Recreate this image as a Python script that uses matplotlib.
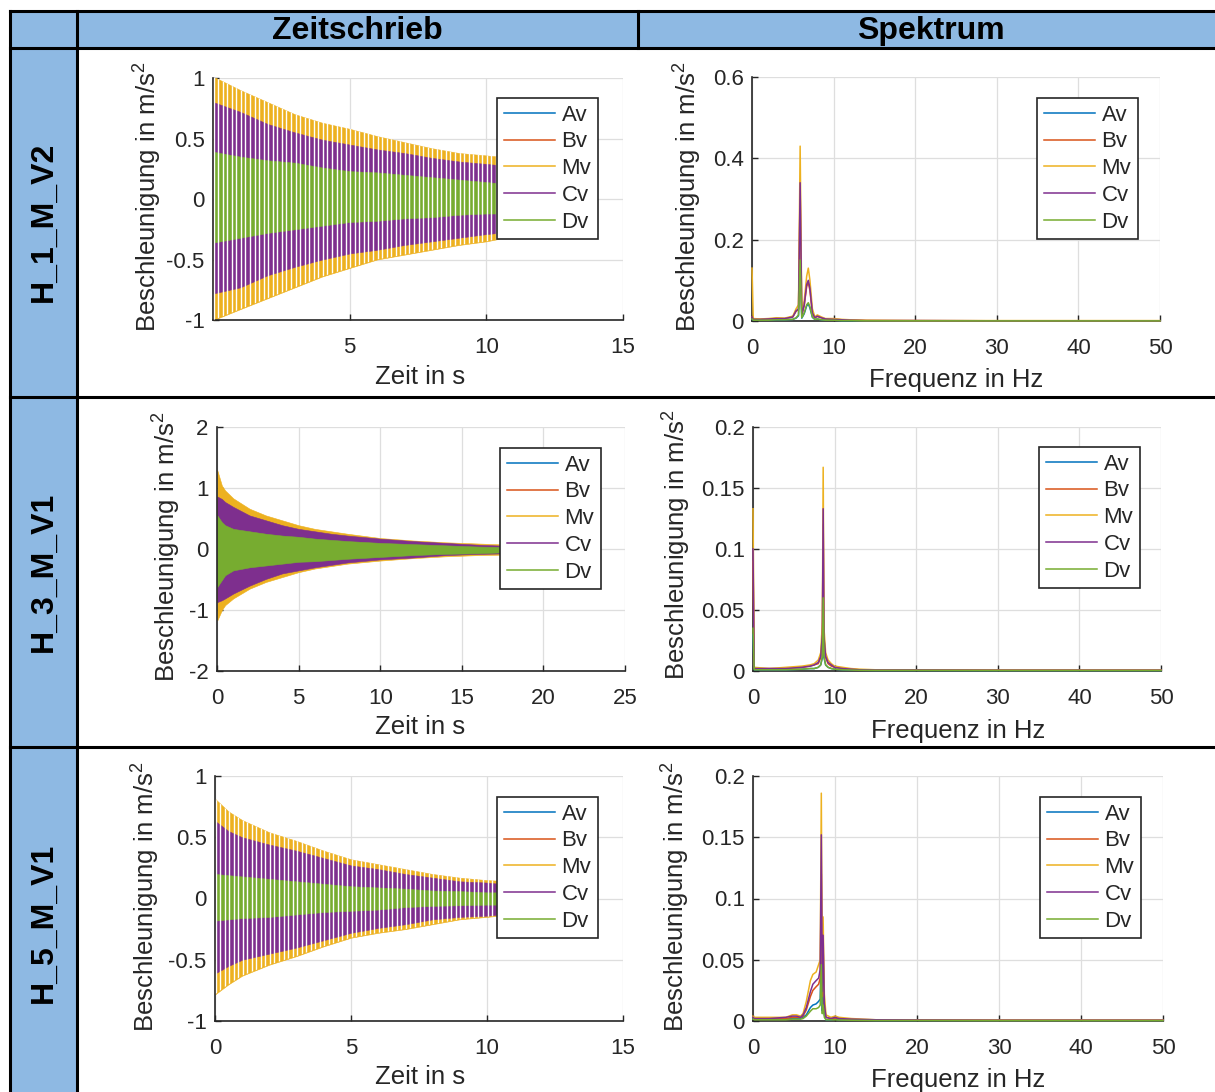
import numpy as np
import matplotlib
matplotlib.use("Agg")
import matplotlib.pyplot as plt
from matplotlib.lines import Line2D
from matplotlib.patches import Rectangle
from matplotlib.ticker import FuncFormatter

plt.rcParams['font.family'] = ['Liberation Sans', 'DejaVu Sans']
plt.rcParams['axes.unicode_minus'] = False
plt.rcParams['mathtext.fontset'] = 'custom'
plt.rcParams['mathtext.rm'] = 'Liberation Sans'
plt.rcParams['mathtext.default'] = 'regular'

# ---------------------------------------------------------------- data
CHANNELS = ["Av", "Bv", "Mv", "Cv", "Dv"]
COLORS = {"Av": "#0072BD", "Bv": "#D95319", "Mv": "#EDB120",
          "Cv": "#7E2F8E", "Dv": "#77AC30"}
ROW_LABELS = ["H_1_M_V2", "H_3_M_V1", "H_5_M_V1"]
HEADERS = ["Zeitschrieb", "Spektrum"]

# H_1_M_V2 – envelope of the time signal (upper / lower) in m/s^2
H1_T = [0.02, 1, 2, 3, 4, 5, 6, 7, 8, 9, 10, 10.45]
H1_UP = {
    "Av": [0.36, 0.32, 0.29, 0.27, 0.24, 0.21, 0.20, 0.18, 0.16, 0.15, 0.13, 0.12],
    "Bv": [0.76, 0.68, 0.59, 0.52, 0.47, 0.43, 0.39, 0.36, 0.32, 0.29, 0.27, 0.26],
    "Mv": [1.01, 0.90, 0.80, 0.70, 0.63, 0.58, 0.52, 0.47, 0.42, 0.38, 0.36, 0.35],
    "Cv": [0.80, 0.72, 0.62, 0.55, 0.49, 0.45, 0.41, 0.38, 0.34, 0.31, 0.29, 0.28],
    "Dv": [0.39, 0.35, 0.32, 0.30, 0.26, 0.23, 0.22, 0.20, 0.18, 0.16, 0.14, 0.13],
}
H1_LO = {
    "Av": [-0.33, -0.30, -0.26, -0.23, -0.20, -0.18, -0.17, -0.15, -0.14, -0.12, -0.11, -0.11],
    "Bv": [-0.74, -0.69, -0.60, -0.53, -0.47, -0.43, -0.40, -0.36, -0.33, -0.30, -0.27, -0.26],
    "Mv": [-1.00, -0.91, -0.82, -0.73, -0.64, -0.57, -0.50, -0.46, -0.42, -0.38, -0.35, -0.33],
    "Cv": [-0.78, -0.73, -0.63, -0.56, -0.50, -0.45, -0.42, -0.38, -0.35, -0.32, -0.29, -0.28],
    "Dv": [-0.36, -0.32, -0.28, -0.25, -0.22, -0.19, -0.18, -0.16, -0.15, -0.13, -0.12, -0.12],
}

# H_3_M_V1
H3_T = [0.02, 0.3, 0.5, 1, 2, 3, 4, 5, 6, 7, 8, 10, 12, 14, 16, 18, 19]
H3_UP = {
    "Av": [0.45, 0.38, 0.34, 0.29, 0.25, 0.22, 0.19, 0.17, 0.15, 0.13, 0.11, 0.09, 0.07, 0.05, 0.04, 0.03, 0.02],
    "Bv": [0.80, 0.76, 0.72, 0.64, 0.51, 0.44, 0.36, 0.31, 0.27, 0.23, 0.20, 0.16, 0.12, 0.09, 0.07, 0.05, 0.04],
    "Mv": [1.29, 1.04, 0.96, 0.83, 0.66, 0.55, 0.47, 0.39, 0.33, 0.29, 0.25, 0.18, 0.14, 0.11, 0.09, 0.07, 0.06],
    "Cv": [0.86, 0.82, 0.77, 0.69, 0.55, 0.47, 0.39, 0.33, 0.29, 0.25, 0.22, 0.17, 0.13, 0.10, 0.07, 0.05, 0.04],
    "Dv": [0.55, 0.44, 0.39, 0.33, 0.29, 0.25, 0.22, 0.20, 0.17, 0.15, 0.13, 0.10, 0.08, 0.06, 0.04, 0.03, 0.03],
}
H3_LO = {
    "Av": [-0.50, -0.42, -0.37, -0.31, -0.26, -0.23, -0.21, -0.18, -0.17, -0.15, -0.14, -0.11, -0.09, -0.07, -0.06, -0.04, -0.04],
    "Bv": [-0.81, -0.78, -0.75, -0.68, -0.56, -0.46, -0.37, -0.33, -0.28, -0.24, -0.21, -0.16, -0.13, -0.09, -0.07, -0.06, -0.05],
    "Mv": [-1.17, -1.00, -0.92, -0.81, -0.65, -0.54, -0.46, -0.38, -0.32, -0.28, -0.24, -0.19, -0.15, -0.12, -0.10, -0.09, -0.08],
    "Cv": [-0.87, -0.84, -0.81, -0.73, -0.60, -0.49, -0.40, -0.35, -0.30, -0.26, -0.22, -0.17, -0.14, -0.10, -0.08, -0.07, -0.06],
    "Dv": [-0.62, -0.51, -0.43, -0.35, -0.30, -0.27, -0.24, -0.21, -0.20, -0.18, -0.16, -0.13, -0.10, -0.08, -0.07, -0.05, -0.05],
}

# H_5_M_V1
H5_T = [0.02, 0.5, 1, 2, 3, 4, 5, 6, 7, 8, 9, 10, 10.45]
H5_UP = {
    "Av": [0.28, 0.25, 0.23, 0.20, 0.18, 0.15, 0.13, 0.11, 0.10, 0.08, 0.07, 0.06, 0.06],
    "Bv": [0.55, 0.48, 0.44, 0.38, 0.34, 0.29, 0.24, 0.21, 0.18, 0.15, 0.12, 0.11, 0.10],
    "Mv": [0.81, 0.71, 0.64, 0.54, 0.47, 0.39, 0.32, 0.28, 0.24, 0.20, 0.17, 0.15, 0.145],
    "Cv": [0.63, 0.55, 0.50, 0.44, 0.39, 0.33, 0.27, 0.24, 0.20, 0.17, 0.14, 0.13, 0.12],
    "Dv": [0.20, 0.19, 0.18, 0.16, 0.14, 0.12, 0.10, 0.09, 0.08, 0.065, 0.06, 0.05, 0.05],
}
H5_LO = {
    "Av": [-0.26, -0.24, -0.22, -0.19, -0.17, -0.15, -0.13, -0.11, -0.09, -0.08, -0.07, -0.06, -0.06],
    "Bv": [-0.53, -0.48, -0.44, -0.39, -0.35, -0.30, -0.25, -0.21, -0.18, -0.15, -0.13, -0.12, -0.11],
    "Mv": [-0.78, -0.70, -0.63, -0.54, -0.47, -0.39, -0.32, -0.28, -0.25, -0.21, -0.17, -0.15, -0.14],
    "Cv": [-0.61, -0.55, -0.50, -0.45, -0.40, -0.34, -0.28, -0.24, -0.21, -0.17, -0.15, -0.14, -0.13],
    "Dv": [-0.18, -0.17, -0.16, -0.15, -0.13, -0.11, -0.10, -0.09, -0.07, -0.06, -0.055, -0.05, -0.05],
}

# oscillation cycles per second visible in the time traces (None = solid band)
CYCLE_RATE = [6.0, None, 6.0]

# amplitude spectra in m/s^2
H1_F = [0, 0.15, 1, 2, 3, 4, 5, 5.4, 5.7, 5.9, 6.1, 6.4, 6.7, 6.9, 7.1, 7.4,
        7.7, 8.0, 8.5, 9, 10, 11, 12, 14, 20, 30, 40, 50]
H1_SPEC = {
    "Av": [0.005, 0.002, 0.002, 0.002, 0.003, 0.003, 0.004, 0.007, 0.013, 0.140, 0.007, 0.018, 0.037, 0.042,
           0.032, 0.009, 0.004, 0.005, 0.003, 0.002, 0.002, 0.001, 0.001, 0.0005, 0.0005, 0.0003, 0.0003, 0.0003],
    "Bv": [0.010, 0.004, 0.004, 0.005, 0.006, 0.006, 0.010, 0.024, 0.028, 0.320, 0.014, 0.038, 0.085, 0.095,
           0.075, 0.019, 0.008, 0.011, 0.008, 0.005, 0.004, 0.003, 0.002, 0.001, 0.001, 0.0005, 0.0005, 0.0005],
    "Mv": [0.130, 0.006, 0.005, 0.006, 0.008, 0.007, 0.012, 0.030, 0.040, 0.430, 0.020, 0.050, 0.110, 0.130,
           0.100, 0.030, 0.010, 0.015, 0.010, 0.006, 0.006, 0.004, 0.003, 0.002, 0.001, 0.001, 0.001, 0.001],
    "Cv": [0.010, 0.004, 0.004, 0.005, 0.006, 0.006, 0.010, 0.025, 0.030, 0.340, 0.015, 0.040, 0.090, 0.100,
           0.080, 0.020, 0.008, 0.012, 0.008, 0.005, 0.004, 0.003, 0.002, 0.001, 0.001, 0.0005, 0.0005, 0.0005],
    "Dv": [0.005, 0.002, 0.002, 0.002, 0.003, 0.003, 0.004, 0.008, 0.015, 0.150, 0.008, 0.020, 0.040, 0.045,
           0.035, 0.010, 0.004, 0.005, 0.003, 0.002, 0.002, 0.001, 0.001, 0.0005, 0.0005, 0.0003, 0.0003, 0.0003],
}

H3_F = [0, 0.15, 2, 4, 6, 7, 7.5, 8, 8.3, 8.5, 8.6, 8.7, 8.9, 9.2, 9.6, 10,
        11, 12, 13, 15, 20, 30, 40, 50]
H3_SPEC = {
    "Av": [0.030, 0.001, 0.001, 0.001, 0.0015, 0.002, 0.002, 0.003, 0.005, 0.011, 0.035, 0.011,
           0.005, 0.003, 0.002, 0.0015, 0.001, 0.0008, 0.0006, 0.0005, 0.0005, 0.0004, 0.0004, 0.0004],
    "Bv": [0.090, 0.002, 0.002, 0.002, 0.003, 0.004, 0.005, 0.006, 0.011, 0.028, 0.120, 0.026,
           0.011, 0.006, 0.004, 0.003, 0.002, 0.0015, 0.001, 0.0008, 0.0008, 0.0006, 0.0006, 0.0006],
    "Mv": [0.133, 0.003, 0.002, 0.003, 0.004, 0.005, 0.006, 0.009, 0.015, 0.040, 0.167, 0.035,
           0.015, 0.009, 0.006, 0.004, 0.003, 0.002, 0.0015, 0.001, 0.001, 0.0008, 0.0008, 0.0008],
    "Cv": [0.100, 0.002, 0.002, 0.002, 0.003, 0.004, 0.005, 0.007, 0.012, 0.030, 0.133, 0.028,
           0.012, 0.007, 0.005, 0.003, 0.002, 0.0015, 0.001, 0.0008, 0.0008, 0.0006, 0.0006, 0.0006],
    "Dv": [0.035, 0.001, 0.001, 0.001, 0.0015, 0.002, 0.002, 0.003, 0.005, 0.012, 0.060, 0.012,
           0.005, 0.003, 0.002, 0.0015, 0.001, 0.0008, 0.0006, 0.0005, 0.0005, 0.0004, 0.0004, 0.0004],
}

H5_F = [0, 0.15, 2, 4, 4.8, 5.3, 5.8, 6.1, 6.5, 7.0, 7.3, 7.7, 8.0, 8.2, 8.33, 8.45,
        8.55, 8.7, 8.9, 9.5, 10.0, 10.5, 12, 15, 20, 30, 40, 50]
H5_SPEC = {
    "Av": [0.002, 0.0015, 0.0015, 0.0015, 0.002, 0.002, 0.002, 0.003, 0.005, 0.011, 0.013, 0.014, 0.016, 0.018,
           0.066, 0.008, 0.027, 0.005, 0.001, 0.001, 0.0015, 0.001, 0.0008, 0.0005, 0.0005, 0.0004, 0.0004, 0.0004],
    "Bv": [0.003, 0.002, 0.002, 0.002, 0.003, 0.003, 0.003, 0.004, 0.009, 0.020, 0.025, 0.028, 0.030, 0.035,
           0.120, 0.020, 0.060, 0.012, 0.003, 0.002, 0.002, 0.002, 0.0012, 0.0008, 0.0006, 0.0005, 0.0005, 0.0005],
    "Mv": [0.004, 0.003, 0.003, 0.003, 0.005, 0.005, 0.004, 0.006, 0.016, 0.033, 0.038, 0.040, 0.046, 0.050,
           0.186, 0.030, 0.085, 0.022, 0.005, 0.003, 0.004, 0.003, 0.002, 0.001, 0.001, 0.0008, 0.0008, 0.0008],
    "Cv": [0.003, 0.002, 0.002, 0.003, 0.004, 0.004, 0.003, 0.005, 0.011, 0.024, 0.030, 0.033, 0.035, 0.042,
           0.152, 0.024, 0.070, 0.014, 0.003, 0.002, 0.003, 0.002, 0.0015, 0.001, 0.0008, 0.0006, 0.0006, 0.0006],
    "Dv": [0.0015, 0.001, 0.001, 0.001, 0.0015, 0.0015, 0.0015, 0.002, 0.004, 0.008, 0.010, 0.010, 0.011, 0.013,
           0.046, 0.006, 0.013, 0.003, 0.001, 0.001, 0.001, 0.0008, 0.0006, 0.0004, 0.0004, 0.0003, 0.0003, 0.0003],
}

TIME_DATA = [(H1_T, H1_UP, H1_LO), (H3_T, H3_UP, H3_LO), (H5_T, H5_UP, H5_LO)]
SPEC_DATA = [(H1_F, H1_SPEC), (H3_F, H3_SPEC), (H5_F, H5_SPEC)]

TIME_XLIM = [(0, 15), (0, 25), (0, 15)]
TIME_XTICKS = [[5, 10, 15], [0, 5, 10, 15, 20, 25], [0, 5, 10, 15]]
TIME_YLIM = [(-1, 1), (-2, 2), (-1, 1)]
TIME_YTICKS = [[-1, -0.5, 0, 0.5, 1], [-2, -1, 0, 1, 2], [-1, -0.5, 0, 0.5, 1]]
SPEC_YLIM = [(0, 0.6), (0, 0.2), (0, 0.2)]
SPEC_YTICKS = [[0, 0.2, 0.4, 0.6], [0, 0.05, 0.1, 0.15, 0.2], [0, 0.05, 0.1, 0.15, 0.2]]
SPEC_XTICKS = [0, 10, 20, 30, 40, 50]

YLABEL = r"Beschleunigung in m/s$^{2}$"
XLABEL_TIME = "Zeit in s"
XLABEL_SPEC = "Frequenz in Hz"

# ---------------------------------------------------------------- layout (pixels)
W, H = 1215, 1092
BLUE = "#8EB9E3"
INK = "#262626"
GRID = "#DEDEDE"

TIME_BOX = [(213, 78, 623, 320), (217, 427, 625, 671), (215, 776, 623, 1021)]
SPEC_BOX = [(752, 77, 1160, 321), (753, 427, 1161, 671), (753, 776, 1163, 1021)]
TIME_YLAB = [(148, 197), (167, 547), (146, 897)]
TIME_XLAB = [(420, 377), (420, 727), (420, 1077)]
SPEC_YLAB = [(688, 197), (677, 545), (676, 897)]
SPEC_XLAB = [(956, 380), (958, 731), (958, 1080)]
TIME_LEG = [(598, 98), (601, 448), (598, 797)]
SPEC_LEG = [(1138, 98), (1140, 447), (1141, 797)]
ROW_CENTER = [222, 572, 923]


def fig_rect(box):
    l, t, r, b = box
    return [l / W, 1 - b / H, (r - l) / W, (b - t) / H]


def ax_frac(box, px, py):
    l, t, r, b = box
    return (px - l) / (r - l), (b - py) / (b - t)


def style_axes(ax, box, ylab_xy, xlab_xy, xlabel, leg_xy):
    for side in ("top", "right"):
        ax.spines[side].set_visible(False)
    for side in ("left", "bottom"):
        ax.spines[side].set_color(INK)
        ax.spines[side].set_linewidth(1.2)
    ax.grid(True, color=GRID, lw=0.9)
    ax.set_axisbelow(True)
    ax.tick_params(direction="in", length=4, width=1.0, color=INK,
                   labelcolor=INK, labelsize=16, pad=6)
    ax.tick_params(axis="x", pad=12)
    fmt = FuncFormatter(lambda v, p: f"{v:g}")
    ax.xaxis.set_major_formatter(fmt)
    ax.yaxis.set_major_formatter(fmt)
    ax.set_ylabel(YLABEL, fontsize=18.5, color=INK, va="center")
    ax.yaxis.set_label_coords(*ax_frac(box, *ylab_xy))
    ax.set_xlabel(xlabel, fontsize=18.5, color=INK, va="center")
    ax.xaxis.set_label_coords(*ax_frac(box, *xlab_xy))
    handles = [Line2D([], [], color=COLORS[c], lw=1.1) for c in CHANNELS]
    leg = ax.legend(handles, CHANNELS, loc="upper right",
                    bbox_to_anchor=ax_frac(box, *leg_xy), borderaxespad=0,
                    fontsize=16, frameon=True, fancybox=False, framealpha=1,
                    edgecolor=INK, borderpad=0.3, labelspacing=0.26,
                    handlelength=2.3, handletextpad=0.3)
    leg.get_frame().set_linewidth(1.2)
    for txt in leg.get_texts():
        txt.set_color(INK)


fig = plt.figure(figsize=(W / 100, H / 100), dpi=100)

# table background and rules
fig.add_artist(Rectangle((10 / W, 1 - 48 / H), (W - 10) / W, 37 / H,
                         transform=fig.transFigure, facecolor=BLUE,
                         edgecolor="none", zorder=0))
fig.add_artist(Rectangle((10 / W, 0), 67 / W, (H - 48) / H,
                         transform=fig.transFigure, facecolor=BLUE,
                         edgecolor="none", zorder=0))


def rule(x0, y0, x1, y1):
    fig.add_artist(Line2D([x0 / W, x1 / W], [1 - y0 / H, 1 - y1 / H],
                          transform=fig.transFigure, color="black",
                          lw=2.2, zorder=5, solid_capstyle="projecting"))


for y in (11, 48, 397, 747):
    rule(10, y, W, y)
rule(10, 11, 10, H)
rule(77, 11, 77, H)
rule(638, 11, 638, 48)

fig.text(357 / W, 1 - 31 / H, HEADERS[0], ha="center", va="center",
         fontsize=23, fontweight="bold", color="black")
fig.text(931 / W, 1 - 31 / H, HEADERS[1], ha="center", va="center",
         fontsize=23, fontweight="bold", color="black")
for label, yc in zip(ROW_LABELS, ROW_CENTER):
    fig.text(44 / W, 1 - yc / H, label, ha="center", va="center",
             rotation=90, fontsize=23, fontweight="bold", color="black")

# time traces
for i, (t, up, lo) in enumerate(TIME_DATA):
    box = TIME_BOX[i]
    ax = fig.add_axes(fig_rect(box))
    fills = {}
    for c in CHANNELS:
        fills[c] = ax.fill_between(t, lo[c], up[c], color=COLORS[c], lw=0.4,
                                   edgecolor=COLORS[c], zorder=2)
    rate = CYCLE_RATE[i]
    if rate:
        cycles = np.arange(t[0], t[-1], 1.0 / rate)
        gaps = ax.vlines(cycles, -2.5, 2.5, color="white", lw=1.0, zorder=3)
        outer = fills["Mv"]
        gaps.set_clip_path(outer.get_paths()[0], outer.get_transform())
    ax.set_xlim(*TIME_XLIM[i])
    ax.set_ylim(*TIME_YLIM[i])
    ax.set_xticks(TIME_XTICKS[i])
    ax.set_yticks(TIME_YTICKS[i])
    style_axes(ax, box, TIME_YLAB[i], TIME_XLAB[i], XLABEL_TIME, TIME_LEG[i])

# spectra
for i, (f, spec) in enumerate(SPEC_DATA):
    box = SPEC_BOX[i]
    ax = fig.add_axes(fig_rect(box))
    for c in CHANNELS:
        ax.plot(f, spec[c], color=COLORS[c], lw=1.1, zorder=3, clip_on=False)
    ax.set_xlim(0, 50)
    ax.set_ylim(*SPEC_YLIM[i])
    ax.set_xticks(SPEC_XTICKS)
    ax.set_yticks(SPEC_YTICKS[i])
    style_axes(ax, box, SPEC_YLAB[i], SPEC_XLAB[i], XLABEL_SPEC, SPEC_LEG[i])

fig.savefig("out.png", dpi=100)
